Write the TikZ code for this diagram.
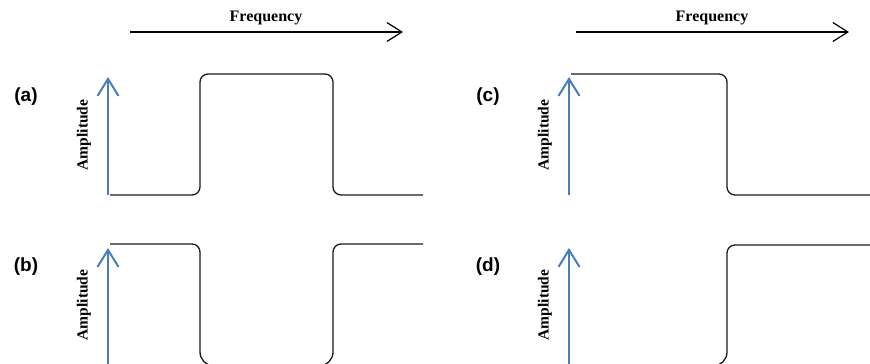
\documentclass[tikz,border=0pt]{standalone}
\usepackage{fontspec}
\setmainfont{Liberation Serif}
\newfontfamily\panelfont{Liberation Sans}
\usetikzlibrary{arrows.meta}
\definecolor{ampblue}{HTML}{4A7EBB}
\definecolor{respblack}{HTML}{1A1A1A}
\tikzset{
  freqaxis/.style={line width=1.2pt, -{Straight Barb[length=15pt,width=19pt]}},
  ampaxis/.style={ampblue, line width=2pt, -{Straight Barb[length=17pt,width=21pt]}},
  resp/.style={respblack, line width=1.3pt, rounded corners=8pt},
  freqlbl/.style={font=\bfseries\fontsize{16}{19}\selectfont},
  amplbl/.style={font=\bfseries\fontsize{15.5}{18}\selectfont, rotate=90},
  panellbl/.style={font=\panelfont\bfseries\fontsize{19}{22}\selectfont}
}

\begin{document}
\begin{tikzpicture}[x=1pt, y=-1pt]
  \useasboundingbox (0,0) rectangle (870,364);

  % frequency axes
  \coordinate (fl0) at (130,32); \coordinate (fl1) at (403,32);
  \coordinate (fr0) at (576,32); \coordinate (fr1) at (849,32);
  \draw[freqaxis] (fl0) -- (fl1);
  \draw[freqaxis] (fr0) -- (fr1);
  \node[freqlbl] (freqL) at (266,18) {Frequency};
  \node[freqlbl] (freqR) at (712,18) {Frequency};

  % panel labels
  \node[panellbl] (lblA) at (26,97) {(a)};
  \node[panellbl] (lblB) at (26,267) {(b)};
  \node[panellbl] (lblC) at (488,97) {(c)};
  \node[panellbl] (lblD) at (488,267) {(d)};

  % amplitude axes
  \coordinate (aA0) at (108,195); \coordinate (aA1) at (108,77);
  \coordinate (aB0) at (108,364); \coordinate (aB1) at (108,248);
  \coordinate (aC0) at (569,195); \coordinate (aC1) at (569,77);
  \coordinate (aD0) at (569,364); \coordinate (aD1) at (569,248);
  \draw[ampaxis] (aA0) -- (aA1);
  \draw[ampaxis] (aB0) -- (aB1);
  \draw[ampaxis] (aC0) -- (aC1);
  \draw[ampaxis] (aD0) -- (aD1);
  \node[amplbl] (ampA) at (84,135) {Amplitude};
  \node[amplbl] (ampB) at (84,305) {Amplitude};
  \node[amplbl] (ampC) at (545,135) {Amplitude};
  \node[amplbl] (ampD) at (545,305) {Amplitude};

  % responses
  \draw[resp] (110,195) -- (200,195) -- (200,74) -- (333,74) -- (333,195) -- (423,195);
  \draw[resp] (110,244) -- (200,244) [rounded corners=14pt] -- (200,366) -- (333,366)
    [rounded corners=8pt] -- (333,244) -- (423,244);
  \draw[resp] (571,74) -- (727,74) -- (727,195) -- (870,195);
  \draw[resp, rounded corners=14pt] (700,366) -- (727,366) [rounded corners=8pt] -- (727,245) -- (870,245);
\end{tikzpicture}
\end{document}
